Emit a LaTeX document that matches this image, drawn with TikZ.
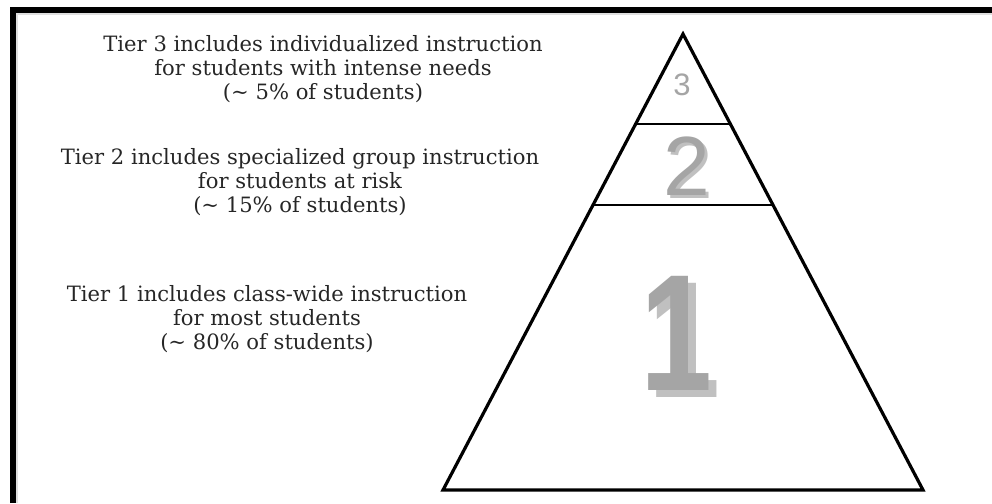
\documentclass[tikz,border=0pt]{standalone}
\usepackage{fontspec}
\setmainfont{DejaVu Serif}
\newfontfamily\digitfont{Liberation Sans}
\newfontfamily\digitnarrow[FakeStretch=0.78]{Liberation Sans}
\usetikzlibrary{calc}
\definecolor{tiergray}{RGB}{165,165,165}
\definecolor{tiershade}{RGB}{192,192,192}

\begin{document}
\begin{tikzpicture}[x=1pt, y=-1pt,
	tiertext/.style={align=center, inner sep=0pt, text=black!85, font=\fontsize{21.1}{24}\selectfont},
	tiernum/.style={anchor=base, inner sep=0pt, text=tiergray}]
	\useasboundingbox (0,0) rectangle (992,503);
	\draw[line width=3pt, gray!25] (16,503) -- (16,14) -- (992,14);
	\draw[line width=5.5pt] (13,503) -- (13,10) -- (992,10);
	\coordinate (apex) at (683,34);
	\coordinate (baseL) at (443,490);
	\coordinate (baseR) at (923,490);
	\draw[line width=3.2pt] (apex) -- (baseR) -- (baseL) -- cycle;
	\draw[line width=2.6pt] ($(apex)!0.197!(baseL)$) -- ($(apex)!0.197!(baseR)$);
	\draw[line width=2.6pt] ($(apex)!0.375!(baseL)$) -- ($(apex)!0.375!(baseR)$);
	\node[tiernum, font=\digitfont\fontsize{31}{31}\selectfont] (num3) at (682,95) {3};
	\node[tiernum, text=tiershade, font=\digitfont\fontsize{84}{84}\selectfont] (num2shade) at (690,198) {2};
	\node[tiernum, font=\digitfont\fontsize{84}{84}\selectfont] (num2) at (687,195) {2};
	\node[tiernum, text=tiershade, font=\digitnarrow\bfseries\fontsize{166}{166}\selectfont] (num1shade) at (684,397) {1};
	\node[tiernum, font=\digitnarrow\bfseries\fontsize{166}{166}\selectfont] (num1) at (676,390) {1};
	\node[tiertext] (tier3) at (323,69) {Tier 3 includes individualized instruction\\for students with intense needs\\(\textasciitilde{} 5\% of students)};
	\node[tiertext] (tier2) at (300,182) {Tier 2 includes specialized group instruction\\for students at risk\\(\textasciitilde{} 15\% of students)};
	\node[tiertext] (tier1) at (267,319) {Tier 1 includes class-wide instruction\\for most students\\(\textasciitilde{} 80\% of students)};
\end{tikzpicture}
\end{document}
